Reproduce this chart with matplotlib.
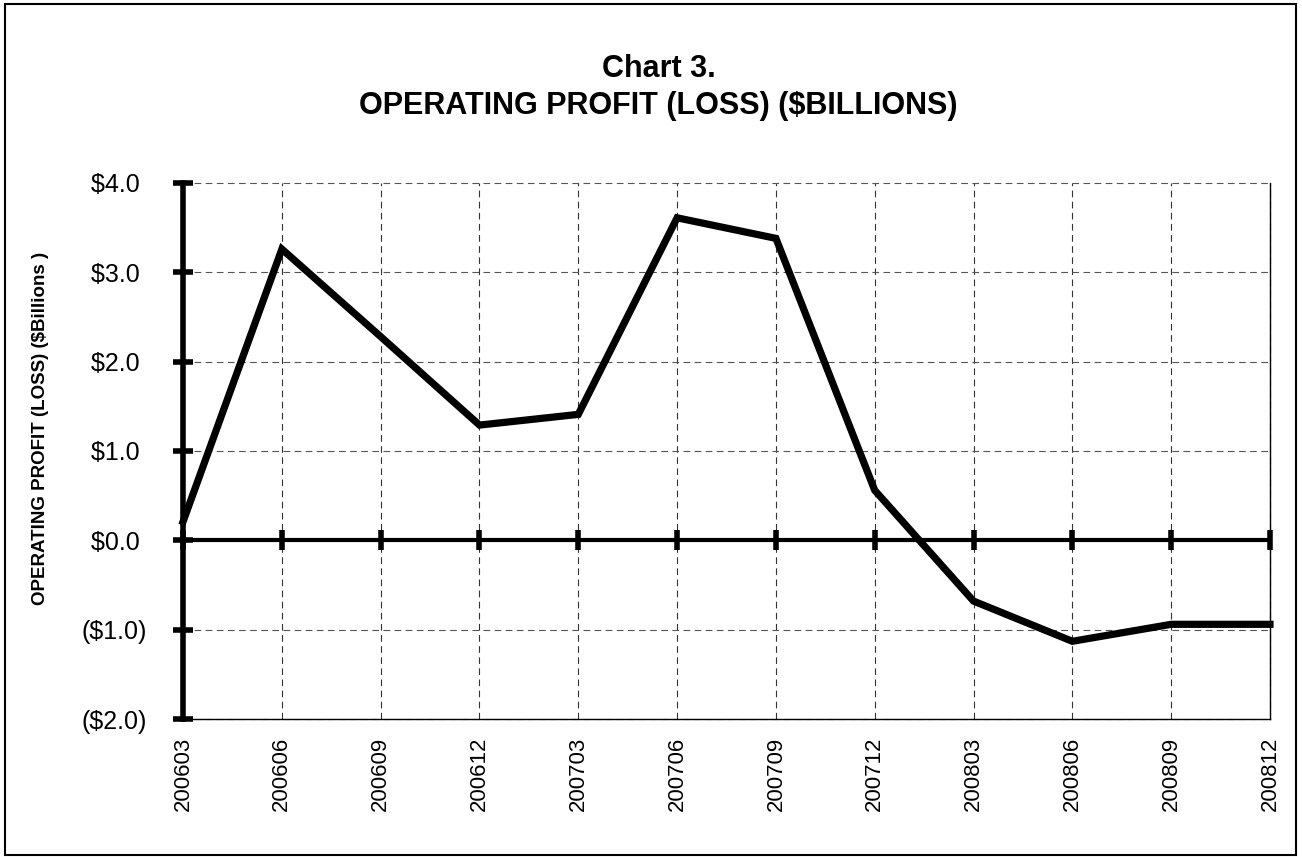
import matplotlib
matplotlib.use("Agg")
import matplotlib.pyplot as plt
from matplotlib.patches import Rectangle

plt.rcParams["font.family"] = ["Liberation Sans", "DejaVu Sans"]

# quarter-end periods and operating profit (loss), $ billions
periods = ["200603", "200606", "200609", "200612", "200703", "200706",
           "200709", "200712", "200803", "200806", "200809", "200812"]
profit = [0.21, 3.26, 2.28, 1.29, 1.41, 3.61, 3.38, 0.56, -0.68, -1.13, -0.94, -0.94]

y_ticks = [-2.0, -1.0, 0.0, 1.0, 2.0, 3.0, 4.0]


def money(v):
    # Excel-style "$#,##0.0_);($#,##0.0)" - positives padded where ")" goes
    return f"(${abs(v):.1f})" if v < 0 else f"${v:.1f} "


fig = plt.figure(figsize=(13.02, 8.57), dpi=100, facecolor="white")
ax = fig.add_axes([0.1406, 0.1610, 0.8348, 0.6255])

x = list(range(len(periods)))

# dashed grid
for xi in x:
    ax.axvline(xi, color="#333333", lw=0.8, dashes=(6, 4), zorder=1, clip_on=False)
for yv in y_ticks:
    ax.axhline(yv, color="#555555", lw=0.8, dashes=(6, 4), zorder=1, clip_on=False)

# zero line with small category ticks
ax.axhline(0, color="black", lw=3, zorder=2)
ax.plot(x, [0] * len(x), ls="none", marker="|", ms=15, mew=4,
        color="black", zorder=2, clip_on=False)

ax.plot(x, profit, color="black", lw=5.2, solid_joinstyle="miter", zorder=3,
        clip_on=False)

ax.set_xlim(0, len(periods) - 1)
ax.set_ylim(-2.0, 4.0)

ax.set_yticks(y_ticks)
ax.set_yticklabels([money(v) for v in y_ticks], fontsize=18)
ax.tick_params(axis="y", direction="inout", length=14.5, width=4, pad=19)

ax.set_xticks(x)
ax.set_xticklabels(periods, rotation=90, fontsize=16)
ax.tick_params(axis="x", length=0, pad=13)

ax.spines["top"].set_visible(False)
ax.spines["left"].set_linewidth(4)
ax.spines["right"].set_linewidth(1)
ax.spines["bottom"].set_linewidth(1)

fig.text(0.5058, 1 - 69 / 857, "Chart 3.", ha="center", va="center",
         fontsize=22, fontweight="bold")
fig.text(0.5058, 1 - 106 / 857, "OPERATING PROFIT (LOSS) ($BILLIONS)",
         ha="center", va="center", fontsize=22, fontweight="bold")
fig.text(41 / 1302, 1 - 428 / 857, "OPERATING PROFIT (LOSS) ($Billions )",
         rotation=90, ha="center", va="center", fontsize=13.5, fontweight="bold")

# outer frame
fig.patches.append(Rectangle((5 / 1302, 2 / 857), 1291 / 1302, 851 / 857,
                             transform=fig.transFigure, fill=False,
                             edgecolor="black", lw=1.5))

fig.savefig("out.png", dpi=100, facecolor="white")
